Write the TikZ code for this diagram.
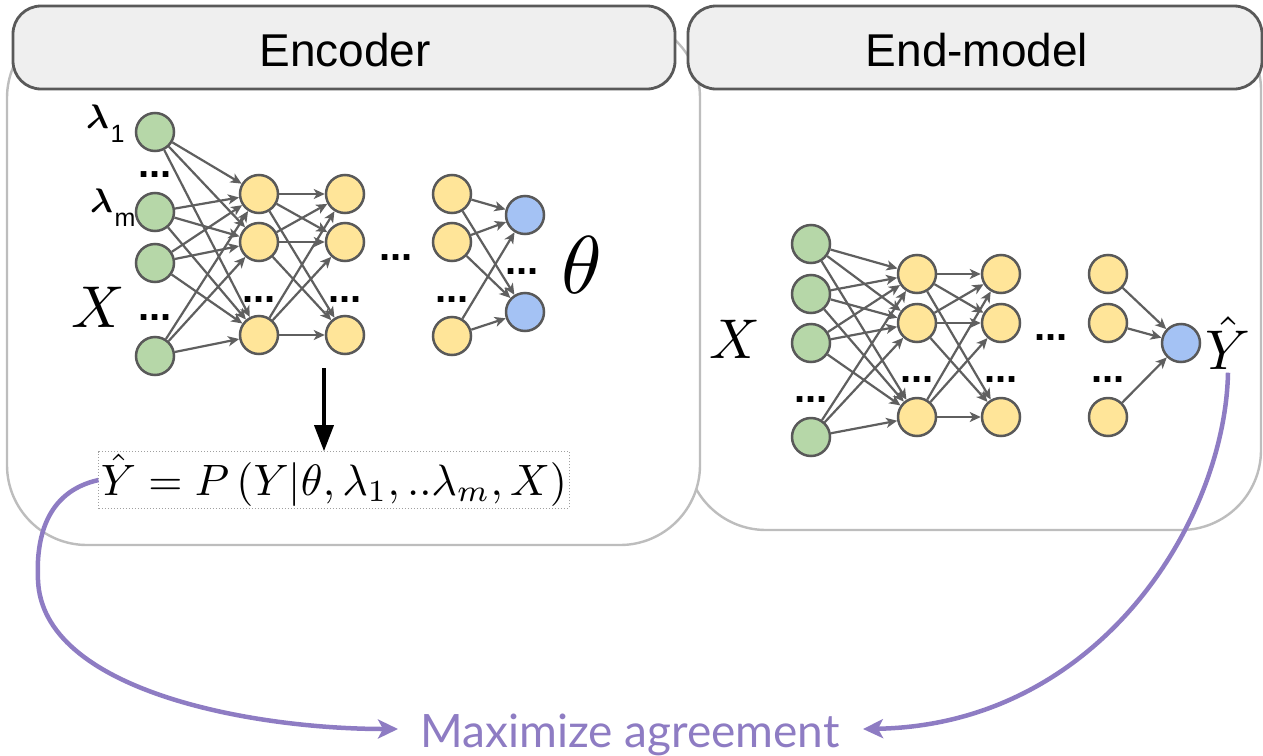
\documentclass[tikz,border=0pt]{standalone}
\usepackage{fontspec}
\newfontfamily\sansf{Liberation Sans}
\newfontfamily\agreef{Lato}
\usetikzlibrary{arrows.meta}

\definecolor{headfill}{HTML}{EFEFEF}
\definecolor{headline}{HTML}{595959}
\definecolor{framegray}{HTML}{BDBDBD}
\definecolor{greenfill}{HTML}{B6D7A8}
\definecolor{yellowfill}{HTML}{FFE599}
\definecolor{bluefill}{HTML}{A4C2F4}
\definecolor{edgegray}{HTML}{5F5F5F}
\definecolor{agreepurple}{HTML}{8E7CC3}
\definecolor{dotframe}{HTML}{A0A0A0}

% bold lambda with a sans-serif subscript
\newcommand{\lamlabel}[1]{\scalebox{3.4}{\boldmath$\lambda$}\,\raisebox{-14pt}{\fontsize{25}{25}\selectfont\sansf #1}}

\tikzset{
  outerbox/.style={draw=framegray, line width=2.4pt, fill=white, rounded corners=80pt},
  header/.style={draw=headline, line width=2.8pt, fill=headfill, rounded corners=28pt},
  headtext/.style={font=\fontsize{46}{46}\selectfont\sansf, anchor=base, inner sep=0pt},
  neuron/.style={circle, draw=headline, line width=2.5pt, minimum size=38pt, inner sep=0pt},
  inp/.style={neuron, fill=greenfill},
  hid/.style={neuron, fill=yellowfill},
  outp/.style={neuron, fill=bluefill},
  conn/.style={draw=edgegray, line width=2.2pt, -{Stealth[length=11pt,width=10pt,inset=3pt]}},
  dotsl/.style={font=\fontsize{40}{40}\selectfont\sansf\bfseries, anchor=base, inner sep=0pt},
  mathlbl/.style={inner sep=0pt},
  agreeline/.style={draw=agreepurple, line width=4.5pt, -{Stealth[length=20pt,width=19pt,inset=5pt]}},
}

\begin{document}
\begin{tikzpicture}[x=1pt, y=-1pt]
\useasboundingbox (0,0) rectangle (1263,755);

% panel frames
\draw[outerbox] (686,10) rectangle (1261,530);
\draw[outerbox] (7,18) rectangle (700,545);

% panel headers
\draw[header] (13,6) rectangle (675,89);
\draw[header] (688,6) rectangle (1262,89);
\node[headtext] (enctitle) at (345,66) {Encoder};
\node[headtext] (endtitle) at (977,66) {End-model};

% ---------- encoder network ----------
\node[inp] (eg1) at (155,132) {};
\node[inp] (eg2) at (155,212) {};
\node[inp] (eg3) at (155,263) {};
\node[inp] (eg4) at (155,356) {};

\node[hid] (e11) at (259,194) {};
\node[hid] (e12) at (259,242) {};
\node[hid] (e13) at (259,335) {};
\node[hid] (e21) at (345,194) {};
\node[hid] (e22) at (345,242) {};
\node[hid] (e23) at (345,335) {};
\node[hid] (e31) at (452,194) {};
\node[hid] (e32) at (452,242) {};
\node[hid] (e33) at (452,336) {};

\node[outp] (eb1) at (525,215) {};
\node[outp] (eb2) at (525,312) {};

\foreach \a in {eg1,eg2,eg3,eg4}
  \foreach \b in {e11,e12,e13}
    \draw[conn] (\a) -- (\b);
\foreach \a in {e11,e12,e13}
  \foreach \b in {e21,e22,e23}
    \draw[conn] (\a) -- (\b);
\foreach \a in {e31,e32,e33}
  \foreach \b in {eb1,eb2}
    \draw[conn] (\a) -- (\b);

\node[dotsl] (ed1) at (155,177) {...};
\node[dotsl] (ed2) at (155,320) {...};
\node[dotsl] (ed3) at (259,302) {...};
\node[dotsl] (ed4) at (345,302) {...};
\node[dotsl] (ed5) at (396,260) {...};
\node[dotsl] (ed6) at (452,302) {...};
\node[dotsl] (ed7) at (522,274) {...};

\node[anchor=base west, inner sep=0pt] (lam1) at (86,128) {\lamlabel{1}};
\node[anchor=base west, inner sep=0pt] (lamm) at (90,212) {\lamlabel{m}};
\node[mathlbl] (ex) at (98,307) {\scalebox{5.9}{$X$}};
\node[mathlbl] (theta) at (582,265) {\scalebox{8.2}{$\theta$}};

% encoder output formula
\node[draw=dotframe, dotted, line width=1pt, inner sep=2pt] (eq) at (334,480)
  {\resizebox{466pt}{!}{$\hat{Y} = P\left(Y|\theta,\lambda_1,..\lambda_m,X\right)$}};
\coordinate (down) at (324,368);
\draw[line width=3.5pt, -{Triangle[length=26pt,width=19pt]}] (down) -- (down |- eq.north);

% ---------- end-model network ----------
\node[inp] (mg1) at (811,244) {};
\node[inp] (mg2) at (811,294) {};
\node[inp] (mg3) at (811,343) {};
\node[inp] (mg4) at (811,437) {};

\node[hid] (m11) at (917,274) {};
\node[hid] (m12) at (917,323) {};
\node[hid] (m13) at (917,417) {};
\node[hid] (m21) at (1001,274) {};
\node[hid] (m22) at (1001,323) {};
\node[hid] (m23) at (1001,417) {};
\node[hid] (m31) at (1108,274) {};
\node[hid] (m32) at (1108,323) {};
\node[hid] (m33) at (1108,417) {};

\node[outp] (mb) at (1181,343) {};

\foreach \a in {mg1,mg2,mg3,mg4}
  \foreach \b in {m11,m12,m13}
    \draw[conn] (\a) -- (\b);
\foreach \a in {m11,m12,m13}
  \foreach \b in {m21,m22,m23}
    \draw[conn] (\a) -- (\b);
\foreach \a in {m31,m32,m33}
  \draw[conn] (\a) -- (mb);

\node[dotsl] (md1) at (811,402) {...};
\node[dotsl] (md2) at (917,382) {...};
\node[dotsl] (md3) at (1001,382) {...};
\node[dotsl] (md4) at (1051,340) {...};
\node[dotsl] (md5) at (1108,382) {...};

\node[mathlbl] (mx) at (735,339) {\scalebox{5.6}{$X$}};
\node[mathlbl] (yhat) at (1228,343) {\scalebox{5.6}{$\hat{Y}$}};

% ---------- agreement objective ----------
\node[font=\agreef\fontsize{46}{46}\selectfont, text=agreepurple, anchor=base, inner sep=0pt] (agree) at (630,747) {Maximize agreement};
\coordinate (tipL) at (398,729);
\coordinate (tipR) at (863,729);
\draw[agreeline] (eq.west) .. controls (45,492) and (36,540) .. (38,580)
  .. controls (42,690) and (250,729) .. (tipL);
\draw[agreeline] ([yshift=-3pt]yhat.south) .. controls (1225,520) and (1100,725) .. (tipR);
\end{tikzpicture}
\end{document}
